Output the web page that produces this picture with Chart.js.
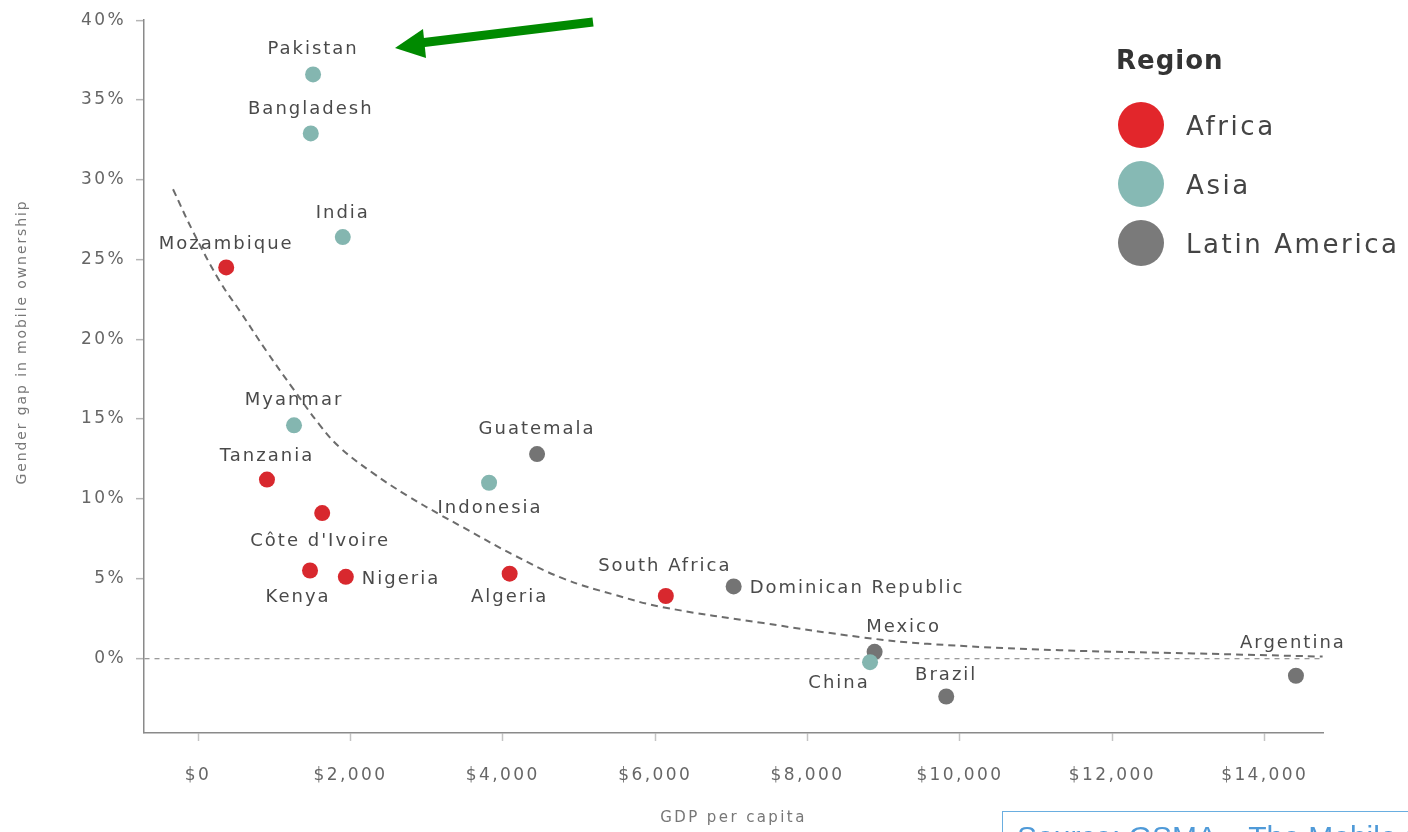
<!DOCTYPE html>
<html>
<head>
<meta charset="utf-8">
<script src="https://cdn.jsdelivr.net/npm/chart.js@4.4.1/dist/chart.umd.min.js"></script>
<style>
  html, body { margin: 0; padding: 0; background: #fff; overflow: hidden; }
  #wrap { position: relative; width: 1408px; height: 832px; overflow: hidden; }
  #legend { position: absolute; left: 0; top: 0; font-family: "DejaVu Sans", sans-serif; color: #444; }
  #legend .title { position: absolute; left: 1116px; top: 45px; font-size: 26px; letter-spacing: 1px; font-weight: bold; color: #333; white-space: nowrap; }
  #legend .item { position: absolute; left: 1118px; height: 46px; white-space: nowrap; }
  #legend .dot { position: absolute; left: 0; top: 0; width: 46px; height: 46px; border-radius: 50%; }
  #legend .lbl { position: absolute; left: 68px; top: 9px; font-size: 26px; letter-spacing: 2.6px; }
  #source { position: absolute; left: 1002px; top: 811px; width: 480px; height: 60px; border: 1.5px solid #6aaee0;
            box-sizing: border-box; padding: 8px 0 0 14px; font-family: "Liberation Sans", sans-serif; font-size: 30px; color: #4f9ad8; white-space: nowrap; }
</style>
</head>
<body>
<div id="wrap">
  <canvas id="myChart" width="1408" height="832"></canvas>
  <div id="legend"></div>
  <div id="source">Source: GSMA – The Mobile Gender Gap Report 2019</div>
</div>
<script>
// data
const africaNames = ['Mozambique', 'Tanzania', "Côte d'Ivoire", 'Kenya', 'Nigeria', 'Algeria', 'South Africa'];
const africaGdp = [370, 905, 1630, 1470, 1940, 4090, 6140];
const africaGap = [24.5, 11.2, 9.1, 5.5, 5.1, 5.3, 3.9];

const asiaNames = ['Pakistan', 'Bangladesh', 'India', 'Myanmar', 'Indonesia', 'China'];
const asiaGdp = [1510, 1480, 1900, 1260, 3820, 8820];
const asiaGap = [36.6, 32.9, 26.4, 14.6, 11.0, -0.25];

const latamNames = ['Guatemala', 'Dominican Republic', 'Mexico', 'Brazil', 'Argentina'];
const latamGdp = [4450, 7030, 8880, 9820, 14410];
const latamGap = [12.8, 4.5, 0.4, -2.4, -1.1];

const trendGdp = [-328, -66, 289, 551, 906, 1247, 1601, 1864, 2297, 2743, 3176, 3480, 4130, 4790, 5450, 6100, 7420, 8730, 9570, 11310, 13060, 14760];
const trendGap = [29.4, 26.75, 23.6, 21.75, 19.2, 16.9, 14.6, 13.2, 11.6, 10.2, 9.0, 8.2, 6.5, 5.0, 4.0, 3.2, 2.2, 1.3, 0.9, 0.5, 0.3, 0.1];

const xTicks = [0, 2000, 4000, 6000, 8000, 10000, 12000, 14000];
const yTicks = [0, 5, 10, 15, 20, 25, 30, 35, 40];

const regions = ['Africa', 'Asia', 'Latin America'];
const regionColors = ['#d8282e', '#84b6b0', '#747474'];
const legendColors = ['#e2262b', '#86b9b4', '#7a7a7a'];

// label offsets from the point centre: [dx, dy, align]
const labelOffsets = {
  'Pakistan': [0, -25, 'center'],
  'Bangladesh': [0, -24, 'center'],
  'India': [0, -24, 'center'],
  'Mozambique': [0, -23, 'center'],
  'Myanmar': [0, -25, 'center'],
  'Tanzania': [0, -23, 'center'],
  "Côte d'Ivoire": [-2, 28, 'center'],
  'Kenya': [-12, 27, 'center'],
  'Nigeria': [16, 2, 'left'],
  'Guatemala': [0, -25, 'center'],
  'Indonesia': [1, 26, 'center'],
  'Algeria': [0, 24, 'center'],
  'South Africa': [-1, -30, 'center'],
  'Dominican Republic': [16, 2, 'left'],
  'Mexico': [29, -24, 'center'],
  'China': [-31, 21, 'center'],
  'Brazil': [0, -21, 'center'],
  'Argentina': [-3, -32, 'center']
};

const toPoints = (xs, ys) => xs.map((x, i) => ({x, y: ys[i]}));

const scatterSet = (label, names, xs, ys, color) => ({
  type: 'scatter',
  label,
  names,
  data: toPoints(xs, ys),
  backgroundColor: color,
  borderColor: color,
  pointRadius: 8,
  pointHoverRadius: 8,
  borderWidth: 0
});

const labelsPlugin = {
  id: 'pointLabels',
  beforeLayout(chart) {
    chart.ctx.letterSpacing = '2.4px';
  },
  beforeDraw(chart) {
    chart.ctx.letterSpacing = '2.4px';
  },
  afterDatasetsDraw(chart) {
    const ctx = chart.ctx;
    ctx.save();
    ctx.font = '18px "DejaVu Sans"';
    ctx.letterSpacing = '2px';
    ctx.fillStyle = '#4a4a4a';
    ctx.textBaseline = 'middle';
    chart.data.datasets.forEach((ds, di) => {
      if (!ds.names) return;
      const meta = chart.getDatasetMeta(di);
      meta.data.forEach((pt, i) => {
        const name = ds.names[i];
        const [dx, dy, align] = labelOffsets[name];
        ctx.textAlign = align;
        ctx.fillText(name, pt.x + dx, pt.y + dy);
      });
    });
    ctx.restore();
  },
  afterDraw(chart) {
    const ctx = chart.ctx;
    ctx.save();
    // y axis title
    ctx.translate(22, 342);
    ctx.rotate(-Math.PI / 2);
    ctx.font = '14px "DejaVu Sans"';
    ctx.letterSpacing = '1.9px';
    ctx.fillStyle = '#777';
    ctx.textAlign = 'center';
    ctx.textBaseline = 'middle';
    ctx.fillText('Gender gap in mobile ownership', 0, 0);
    ctx.restore();

    // green arrow annotation
    ctx.save();
    ctx.strokeStyle = '#008a00';
    ctx.fillStyle = '#008a00';
    ctx.lineWidth = 9;
    ctx.beginPath();
    ctx.moveTo(593, 22);
    ctx.lineTo(420, 43);
    ctx.stroke();
    ctx.beginPath();
    ctx.moveTo(395, 48);
    ctx.lineTo(423, 29);
    ctx.lineTo(426, 58);
    ctx.closePath();
    ctx.fill();
    ctx.restore();
  }
};

const context = document.getElementById('myChart').getContext('2d');

new Chart(context, {
  data: {
    datasets: [
      scatterSet(regions[0], africaNames, africaGdp, africaGap, regionColors[0]),
      scatterSet(regions[1], asiaNames, asiaGdp, asiaGap, regionColors[1]),
      scatterSet(regions[2], latamNames, latamGdp, latamGap, regionColors[2]),
      {
        type: 'line',
        label: 'Trend',
        data: toPoints(trendGdp, trendGap),
        borderColor: '#6c6c6c',
        borderWidth: 2,
        borderDash: [7, 5],
        pointRadius: 0,
        tension: 0.4,
        fill: false
      }
    ]
  },
  options: {
    responsive: false,
    animation: false,
    layout: { padding: { top: 18, right: 85, left: 0, bottom: 0 } },
    plugins: {
      legend: { display: false },
      tooltip: { enabled: false }
    },
    scales: {
      x: {
        type: 'linear',
        min: -709,
        max: 14765,
        afterBuildTicks: axis => { axis.ticks = xTicks.map(value => ({value})); },
        afterFit: axis => { axis.height = 99; },
        grid: { drawOnChartArea: false, tickLength: 8, tickColor: '#c4c4c4', tickWidth: 1.5 },
        border: { color: '#8a8a8a', width: 1.5 },
        ticks: {
          padding: 24,
          color: '#666',
          font: { family: 'DejaVu Sans', size: 17 },
          callback: v => '$' + v.toLocaleString('en-US')
        },
        title: {
          display: true,
          text: 'GDP per capita',
          color: '#777',
          font: { family: 'DejaVu Sans', size: 15 },
          padding: { top: 0, bottom: 5 }
        }
      },
      y: {
        type: 'linear',
        min: -4.69,
        max: 40,
        afterBuildTicks: axis => { axis.ticks = yTicks.map(value => ({value})); },
        afterFit: axis => { axis.width = 144; },
        grid: {
          color: c => c.tick && c.tick.value === 0 ? '#9a9a9a' : 'rgba(0,0,0,0)',
          lineWidth: 1.3,
          tickLength: 8,
          tickColor: '#b5b5b5',
          tickWidth: 1.5
        },
        border: { color: '#8a8a8a', width: 1.5, dash: [5, 5] },
        ticks: {
          padding: 10,
          color: '#666',
          font: { family: 'DejaVu Sans', size: 17 },
          callback: v => v + '%'
        }
      }
    }
  },
  plugins: [labelsPlugin]
});

// legend built from the region arrays
const legend = document.getElementById('legend');
legend.innerHTML = '<div class="title">Region</div>' + regions.map((r, i) =>
  `<div class="item" style="top:${102 + i * 59}px"><div class="dot" style="background:${legendColors[i]}"></div><div class="lbl">${r}</div></div>`
).join('');
</script>
</body>
</html>
